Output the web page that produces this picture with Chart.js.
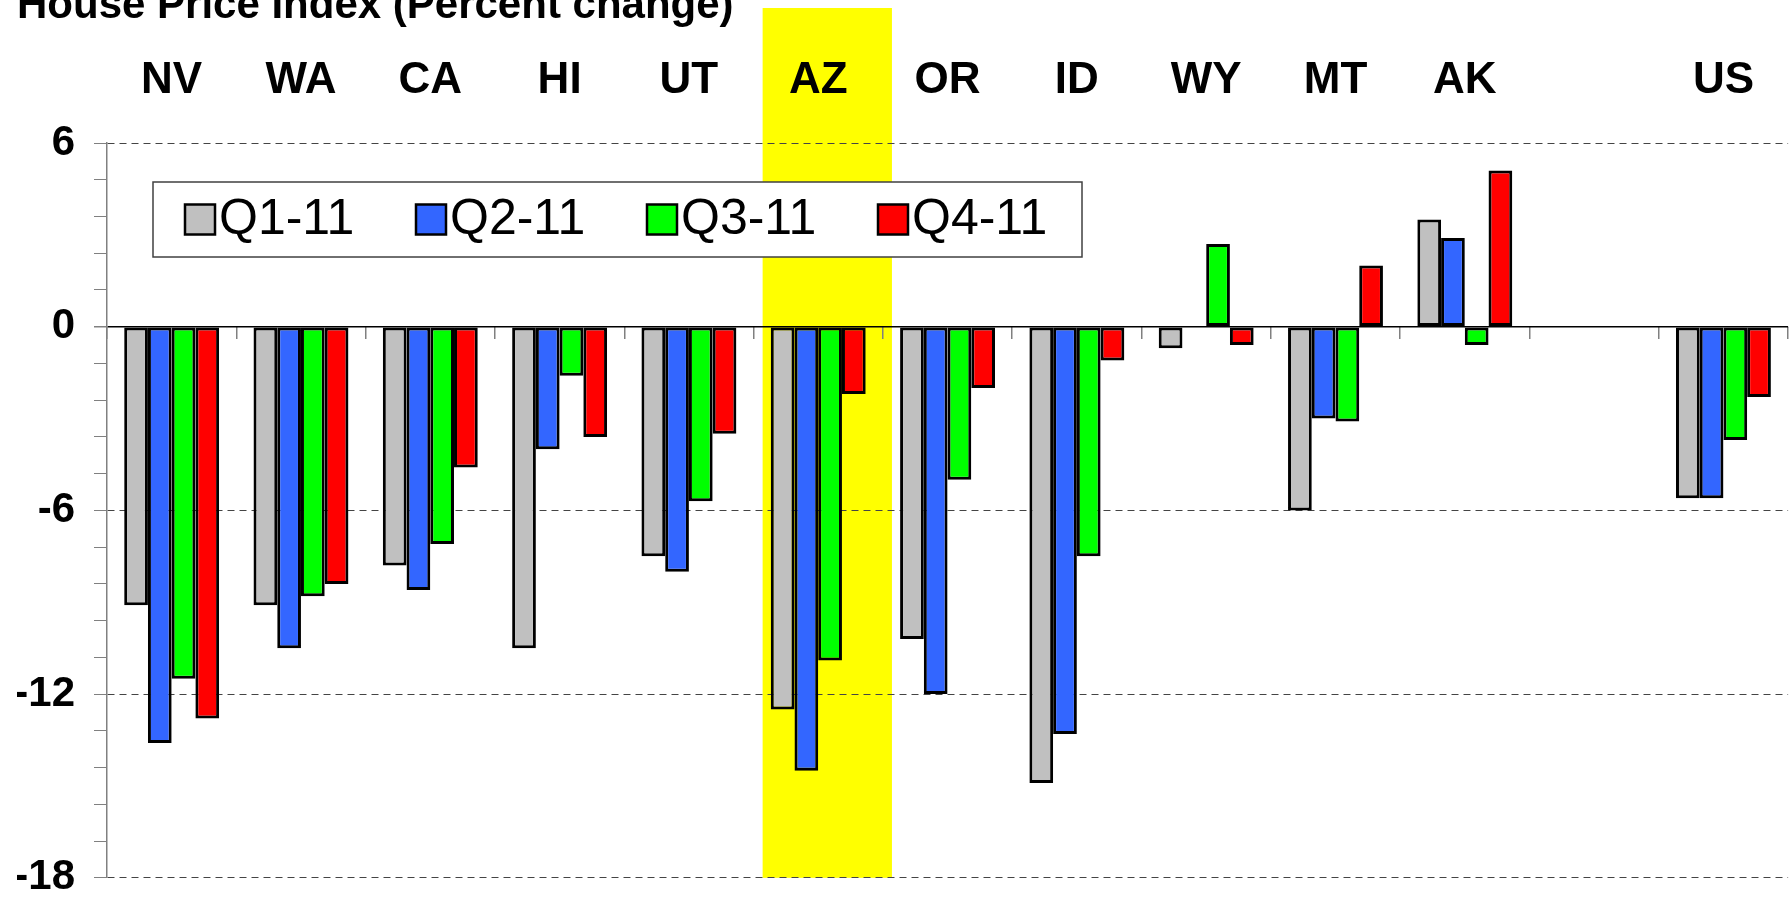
<!DOCTYPE html>
<html>
<head>
<meta charset="utf-8">
<title>House Price Index</title>
<script src="https://cdn.jsdelivr.net/npm/chart.js@4.4.1/dist/chart.umd.min.js"></script>
<style>
  html, body { margin: 0; padding: 0; background: #ffffff; }
  #chart { display: block; }
</style>
</head>
<body>
<canvas id="chart" width="1790" height="922"></canvas>
<script>
// Data
const titleText = 'House Price Index (Percent change)';
const states = ['NV', 'WA', 'CA', 'HI', 'UT', 'AZ', 'OR', 'ID', 'WY', 'MT', 'AK', '', 'US'];
const seriesNames = ['Q1-11', 'Q2-11', 'Q3-11', 'Q4-11'];
const q1Values = [-9.1, -9.1, -7.8, -10.5, -7.5, -12.5, -10.2, -14.9, -0.7, -6.0, 3.5, null, -5.6];
const q2Values = [-13.6, -10.5, -8.6, -4.0, -8.0, -14.5, -12.0, -13.3, 0, -3.0, 2.9, null, -5.6];
const q3Values = [-11.5, -8.8, -7.1, -1.6, -5.7, -10.9, -5.0, -7.5, 2.7, -3.1, -0.6, null, -3.7];
const q4Values = [-12.8, -8.4, -4.6, -3.6, -3.5, -2.2, -2.0, -1.1, -0.6, 2.0, 5.1, null, -2.3];
const yTickLabels = [-18, -12, -6, 0, 6];
const highlighted = 'AZ';

const seriesColors = ['#c0c0c0', '#3366ff', '#00ff00', '#ff0000'];
const fontFamily = "'Liberation Sans', Arial, sans-serif";

// yellow column behind the highlighted state
const highlightPlugin = {
  id: 'highlight',
  beforeDraw: (chart) => {
    const { ctx, chartArea } = chart;
    const x = chart.scales.x;
    const idx = states.indexOf(highlighted);
    const center = x.getPixelForValue(idx);
    const catW = x.getPixelForValue(1) - x.getPixelForValue(0);
    ctx.save();
    ctx.fillStyle = '#ffff00';
    ctx.fillRect(center - 0.43 * catW, 8, catW, chartArea.bottom - 8);
    ctx.restore();
  },
};

// legend in a framed box, like the original
const boxLegendPlugin = {
  id: 'boxLegend',
  afterDatasetsDraw: (chart) => {
    const { ctx } = chart;
    const box = { left: 153, top: 182, right: 1082, bottom: 257 };
    ctx.save();
    ctx.fillStyle = '#ffffff';
    ctx.fillRect(box.left, box.top, box.right - box.left, box.bottom - box.top);
    ctx.strokeStyle = '#404040';
    ctx.lineWidth = 1.5;
    ctx.strokeRect(box.left, box.top, box.right - box.left, box.bottom - box.top);

    const midY = (box.top + box.bottom) / 2;
    chart.data.datasets.forEach((ds, i) => {
      const sx = 185 + i * 231;
      ctx.fillStyle = ds.backgroundColor;
      ctx.fillRect(sx, midY - 15, 30, 30);
      ctx.strokeStyle = '#000000';
      ctx.lineWidth = 2.5;
      ctx.strokeRect(sx, midY - 15, 30, 30);
      ctx.fillStyle = '#000000';
      ctx.font = `50px ${fontFamily}`;
      ctx.textBaseline = 'middle';
      ctx.textAlign = 'left';
      ctx.fillText(ds.label, sx + 34, midY + 1);
    });
    ctx.restore();
  },
};

const isMajor = (v) => yTickLabels.some((t) => Math.abs(t - v) < 1e-6);

const datasets = [q1Values, q2Values, q3Values, q4Values].map((values, i) => ({
  label: seriesNames[i],
  data: values,
  backgroundColor: seriesColors[i],
  borderColor: '#000000',
  borderWidth: 3,
  borderSkipped: false,
  categoryPercentage: 0.734,
  barPercentage: 1.0,
}));

new Chart(document.getElementById('chart'), {
  type: 'bar',
  data: { labels: states, datasets },
  options: {
    responsive: false,
    animation: false,
    devicePixelRatio: 1,
    layout: { padding: { left: 17, right: 0, top: 0, bottom: 20 } },
    plugins: {
      legend: { display: false },
      tooltip: { enabled: false },
      title: {
        display: true,
        text: titleText,
        align: 'start',
        color: '#000000',
        font: { family: fontFamily, size: 42, weight: 'bold', lineHeight: 1.2 },
        padding: { top: -19, bottom: -31.4 },
      },
    },
    scales: {
      x: {
        type: 'category',
        position: 'top',
        offset: true,
        grid: { display: false, drawTicks: false },
        border: { display: false },
        ticks: {
          color: '#000000',
          font: { family: fontFamily, size: 44, weight: 'bold' },
          padding: 36,
          maxRotation: 0,
          autoSkip: false,
        },
        afterFit: (scale) => { scale.height = 143; },
      },
      // small marks on the zero line between states
      x2: {
        type: 'category',
        labels: states,
        position: { y: 0 },
        offset: true,
        grid: {
          offset: true,
          drawOnChartArea: false,
          tickLength: 12,
          color: '#808080',
          lineWidth: 1.5,
        },
        border: { display: false },
        ticks: { display: false },
        afterFit: (scale) => { scale.height = 0; },
      },
      y: {
        min: -18,
        max: 6,
        ticks: {
          stepSize: 1.2,
          autoSkip: false,
          color: '#000000',
          padding: 19,
          font: { family: fontFamily, size: 42, weight: 'bold' },
          callback: (v) => (isMajor(v) ? Math.round(v) : ''),
        },
        grid: {
          tickLength: 13,
          tickColor: '#808080',
          lineWidth: (c) => (c.tick && Math.abs(c.tick.value) < 1e-6 ? 1.5 : 1),
          color: (c) => {
            if (!c.tick) return 'rgba(0,0,0,0)';
            if (Math.abs(c.tick.value) < 1e-6) return '#000000';
            return isMajor(c.tick.value) ? '#444444' : 'rgba(0,0,0,0)';
          },
        },
        border: {
          color: '#808080',
          width: 1.5,
          dash: (c) => (c.tick && Math.abs(c.tick.value) < 1e-6 ? [] : [7, 5]),
        },
        afterFit: (scale) => { scale.width = 90; },
      },
    },
  },
  plugins: [highlightPlugin, boxLegendPlugin],
});
</script>
</body>
</html>
